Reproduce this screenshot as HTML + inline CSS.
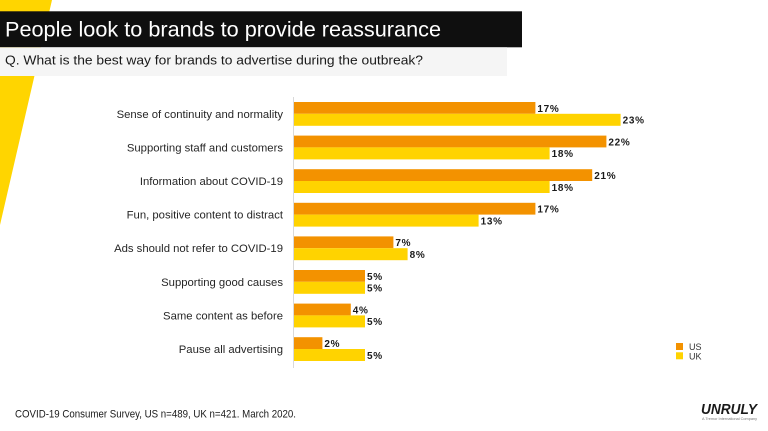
<!DOCTYPE html>
<html>
<head>
<meta charset="utf-8">
<style>
  html,body{margin:0;padding:0;background:#fff;}
  svg{display:block;}
  text{font-family:"Liberation Sans",Arial,sans-serif;}
</style>
</head>
<body>
<svg width="768" height="431" viewBox="0 0 768 431" xmlns="http://www.w3.org/2000/svg">
  <rect x="0" y="0" width="768" height="431" fill="#ffffff"/>
  <!-- yellow slash -->
  <polygon points="0,0 52,0 0,225" fill="#FFD500"/>
  <!-- title bar -->
  <rect x="0" y="11.3" width="522" height="36" fill="#0f0f0f"/>
  <text x="5" y="36.3" font-size="21.5" fill="#ffffff" textLength="436" lengthAdjust="spacingAndGlyphs">People look to brands to provide reassurance</text>
  <!-- subtitle bar -->
  <rect x="0" y="47.3" width="507" height="28.7" fill="#f5f5f5"/>
  <text x="5" y="64.7" font-size="12.6" fill="#1a1a1a" textLength="418" lengthAdjust="spacingAndGlyphs">Q. What is the best way for brands to advertise during the outbreak?</text>

  <!-- axis -->
  <line x1="293.5" y1="97" x2="293.5" y2="368" stroke="#d9d9d9" stroke-width="1"/>

  <!-- category labels -->
  <g font-size="11.3" fill="#262626" text-anchor="end">
    <text x="283" y="117.8">Sense of continuity and normality</text>
    <text x="283" y="151.4">Supporting staff and customers</text>
    <text x="283" y="185">Information about COVID-19</text>
    <text x="283" y="218.6">Fun, positive content to distract</text>
    <text x="283" y="252.2">Ads should not refer to COVID-19</text>
    <text x="283" y="285.8">Supporting good causes</text>
    <text x="283" y="319.4">Same content as before</text>
    <text x="283" y="353">Pause all advertising</text>
  </g>

  <!-- bars -->
  <g fill="#F39200">
    <rect x="294" y="102" width="241.4" height="11.8"/>
    <rect x="294" y="135.6" width="312.4" height="11.8"/>
    <rect x="294" y="169.2" width="298.2" height="11.8"/>
    <rect x="294" y="202.8" width="241.4" height="11.8"/>
    <rect x="294" y="236.4" width="99.4" height="11.8"/>
    <rect x="294" y="270" width="71" height="11.8"/>
    <rect x="294" y="303.6" width="56.8" height="11.8"/>
    <rect x="294" y="337.2" width="28.4" height="11.8"/>
  </g>
  <g fill="#FFD300">
    <rect x="294" y="113.8" width="326.6" height="12"/>
    <rect x="294" y="147.4" width="255.6" height="12"/>
    <rect x="294" y="181" width="255.6" height="12"/>
    <rect x="294" y="214.6" width="184.6" height="12"/>
    <rect x="294" y="248.2" width="113.6" height="12"/>
    <rect x="294" y="281.8" width="71" height="12"/>
    <rect x="294" y="315.4" width="71" height="12"/>
    <rect x="294" y="349" width="71" height="12"/>
  </g>

  <!-- value labels -->
  <g font-size="10" font-weight="bold" fill="#1a1a1a" letter-spacing="0.7">
    <text x="537.4" y="111.8">17%</text>
    <text x="622.6" y="123.6">23%</text>
    <text x="608.4" y="145.4">22%</text>
    <text x="551.6" y="157.2">18%</text>
    <text x="594.2" y="179">21%</text>
    <text x="551.6" y="190.8">18%</text>
    <text x="537.4" y="212.6">17%</text>
    <text x="480.6" y="224.4">13%</text>
    <text x="395.4" y="246.2">7%</text>
    <text x="409.6" y="258">8%</text>
    <text x="367" y="279.8">5%</text>
    <text x="367" y="291.6">5%</text>
    <text x="352.8" y="313.4">4%</text>
    <text x="367" y="325.2">5%</text>
    <text x="324.4" y="347">2%</text>
    <text x="367" y="358.8">5%</text>
  </g>

  <!-- legend -->
  <rect x="676" y="343" width="7" height="7" fill="#F39200"/>
  <rect x="676" y="352.3" width="7" height="7" fill="#FFD300"/>
  <g font-size="9" fill="#333">
    <text x="689" y="350">US</text>
    <text x="689" y="359.5">UK</text>
  </g>

  <!-- footer -->
  <text x="15" y="417.5" font-size="11" fill="#1a1a1a" textLength="281" lengthAdjust="spacingAndGlyphs">COVID-19 Consumer Survey, US n=489, UK n=421. March 2020.</text>

  <!-- logo -->
  <text x="701" y="414" font-size="15" font-weight="900" font-style="italic" fill="#1a1a1a" textLength="56" lengthAdjust="spacingAndGlyphs">UNRULY</text>
  <text x="702" y="420" font-size="3.6" fill="#777" textLength="55" lengthAdjust="spacingAndGlyphs">A Tremor International Company</text>
</svg>
</body>
</html>
